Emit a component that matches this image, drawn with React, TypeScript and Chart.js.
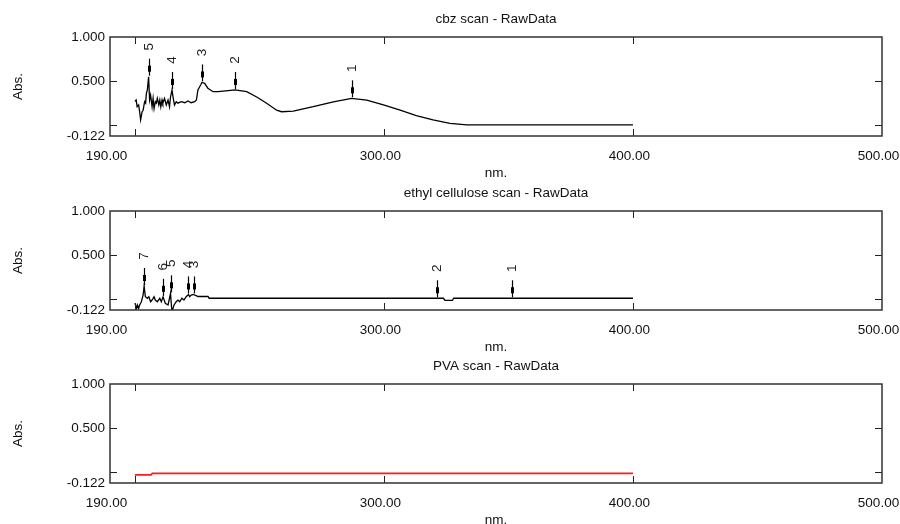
import React, { useEffect, useRef } from "react";
import { Chart, registerables } from "chart.js";

Chart.register(...registerables);

// ---------- axes ----------
const X_MIN = 190;
const X_MAX = 500;
const X_TICK_LABELS = [190, 300, 400, 500];
const X_TICK_MARKS = [200, 300, 400];
const Y_MIN = -0.122;
const Y_MAX = 1.0;
const Y_TICK_LABELS = [-0.122, 0.5, 1.0];
const Y_TICK_MARKS = [0, 0.5];

// ---------- cbz scan ----------
const cbzNm = [
  200.0, 200.5, 200.9, 201.5, 201.9, 202.3, 202.9, 203.3, 203.9, 204.3, 204.6, 205.0, 205.5,
  205.9, 206.3, 206.9, 207.3, 207.7, 208.2, 208.6, 209.0, 209.6, 210.0, 210.4, 210.9, 211.2,
  211.9, 212.6, 213.3, 213.9, 214.3, 214.9, 215.4, 215.9, 216.6, 217.3, 218.6, 220.0, 221.3,
  222.6, 224.0, 224.7, 225.3, 226.4, 226.9, 228.0, 229.3, 231.4, 233.4, 236.5, 240.2, 244.9,
  248.9, 252.9, 256.9, 258.9, 263.6, 271.6, 279.7, 287.0, 293.1, 299.8, 306.5, 313.0, 319.7,
  326.5, 333.3, 350.0, 400.0,
];
const cbzAbs = [
  0.27, 0.286, 0.21, 0.23, 0.153, 0.06, 0.153, 0.17, 0.267, 0.25, 0.36, 0.4, 0.55,
  0.286, 0.34, 0.21, 0.305, 0.19, 0.267, 0.25, 0.305, 0.23, 0.286, 0.21, 0.286, 0.25,
  0.305, 0.23, 0.286, 0.21, 0.32, 0.4, 0.305, 0.23, 0.267, 0.25, 0.267, 0.255, 0.275,
  0.255, 0.267, 0.286, 0.4, 0.456, 0.485, 0.475, 0.42, 0.38, 0.38, 0.39, 0.4, 0.38,
  0.32, 0.25, 0.17, 0.153, 0.16, 0.21, 0.266, 0.305, 0.285, 0.23, 0.17, 0.11, 0.06,
  0.02, 0.005, 0.005, 0.005,
];
const cbzPeakNm = [287.0, 240.2, 226.9, 214.9, 205.5];
const cbzPeakAbs = [0.305, 0.4, 0.485, 0.4, 0.55];
const cbzPeakLabels = ["1", "2", "3", "4", "5"];

// ---------- ethyl cellulose scan ----------
const ecNm = [
  200.0, 200.7, 201.0, 201.5, 201.9, 202.6, 203.3, 203.7, 204.2, 205.0, 205.6, 206.3, 206.9,
  207.7, 208.2, 209.0, 210.0, 210.6, 211.3, 212.2, 213.3, 213.9, 214.3, 214.7, 214.9, 215.7,
  216.6, 217.3, 218.0, 218.9, 219.7, 220.6, 221.5, 222.0, 222.6, 223.6, 223.9, 224.6, 225.3,
  229.4, 229.8, 321.2, 323.9, 324.5, 327.5, 328.0, 351.3, 400.0,
];
const ecAbs = [
  -0.046, -0.103, -0.065, -0.103, -0.065, -0.028, 0.048, 0.15, 0.029, 0.011, 0.029, -0.028, -0.009,
  0.029, -0.009, -0.028, 0.011, -0.028, 0.027, -0.046, -0.065, 0.011, 0.067, -0.085, -0.14, -0.065,
  -0.028, -0.009, -0.028, 0.011, -0.009, 0.029, 0.054, 0.029, 0.048, 0.054, 0.048, 0.04, 0.031,
  0.031, 0.011, 0.011, 0.011, -0.014, -0.014, 0.011, 0.011, 0.011,
];
const ecPeakNm = [351.3, 321.2, 223.6, 221.5, 214.3, 211.3, 203.7];
const ecPeakAbs = [0.011, 0.011, 0.054, 0.054, 0.067, 0.027, 0.15];
const ecPeakLabels = ["1", "2", "3", "4", "5", "6", "7"];

// ---------- PVA scan ----------
const pvaNm = [200.0, 206.5, 207.0, 400.0];
const pvaAbs = [-0.03, -0.03, -0.012, -0.012];

const FONT_FAMILY = "'Liberation Sans', Arial, sans-serif";
const FONT_SIZE = 13.5;

function makeOverlay(peakNm: number[], peakAbs: number[], peakLabels: string[]) {
  return {
    id: "uvOverlay",
    afterDatasetsDraw(chart: any) {
      const { ctx, chartArea: a, scales } = chart;
      const xs = scales.x;
      const ys = scales.y;
      ctx.save();
      // inward tick marks
      ctx.strokeStyle = "#222";
      ctx.lineWidth = 1;
      ctx.beginPath();
      for (const v of X_TICK_MARKS) {
        const px = Math.round(xs.getPixelForValue(v)) + 0.5;
        ctx.moveTo(px, a.top);
        ctx.lineTo(px, a.top + 7);
        ctx.moveTo(px, a.bottom);
        ctx.lineTo(px, a.bottom - 7);
      }
      for (const v of Y_TICK_MARKS) {
        const py = Math.round(ys.getPixelForValue(v)) + 0.5;
        ctx.moveTo(a.left, py);
        ctx.lineTo(a.left + 7, py);
        ctx.moveTo(a.right, py);
        ctx.lineTo(a.right - 7, py);
      }
      ctx.stroke();
      // frame
      ctx.lineWidth = 1.5;
      ctx.strokeStyle = "#333";
      ctx.strokeRect(a.left, a.top, a.right - a.left, a.bottom - a.top);
      // peak picks
      ctx.strokeStyle = "#000";
      ctx.fillStyle = "#000";
      ctx.lineWidth = 1.2;
      ctx.font = `${FONT_SIZE}px ${FONT_FAMILY}`;
      for (let i = 0; i < peakNm.length; i++) {
        const px = Math.round(xs.getPixelForValue(peakNm[i])) + 0.5;
        const py = ys.getPixelForValue(peakAbs[i]);
        ctx.beginPath();
        ctx.moveTo(px, py - 1);
        ctx.lineTo(px, py - 18);
        ctx.stroke();
        ctx.fillRect(px - 1.5, py - 11, 3, 6);
        ctx.save();
        ctx.translate(px, py - 30);
        ctx.rotate(-Math.PI / 2);
        ctx.textAlign = "center";
        ctx.textBaseline = "middle";
        ctx.fillStyle = "#222";
        ctx.fillText(peakLabels[i], 0, 0);
        ctx.restore();
      }
      ctx.restore();
    },
  };
}

type SpecProps = {
  top: number;
  title: string;
  nm: number[];
  abs: number[];
  color: string;
  width: number;
  peakNm: number[];
  peakAbs: number[];
  peakLabels: string[];
};

const CANVAS_W = 900;
const CANVAS_H = 185;

function Spectrum(props: SpecProps) {
  const ref = useRef<HTMLCanvasElement | null>(null);
  useEffect(() => {
    if (!ref.current) return;
    const font = { family: FONT_FAMILY, size: FONT_SIZE, weight: "normal" as const };
    const half = (FONT_SIZE * 1.2) / 2;
    const chart = new Chart(ref.current, {
      type: "line",
      data: {
        datasets: [
          {
            data: props.nm.map((x, i) => ({ x, y: props.abs[i] })),
            borderColor: props.color,
            borderWidth: props.width,
            pointRadius: 0,
            tension: 0,
            fill: false,
          },
        ],
      },
      options: {
        animation: false,
        responsive: false,
        maintainAspectRatio: false,
        layout: { padding: { left: 0, right: 18, top: 0, bottom: 0 } },
        events: [],
        plugins: {
          legend: { display: false },
          tooltip: { enabled: false },
          title: {
            display: true,
            text: props.title,
            fullSize: false,
            color: "#111",
            font,
            padding: { top: 19.5 - half, bottom: 37 - 19.5 - half },
          },
        },
        scales: {
          x: {
            type: "linear",
            min: X_MIN,
            max: X_MAX,
            grid: { display: false, drawTicks: false },
            border: { display: false },
            ticks: {
              autoSkip: false,
              maxRotation: 0,
              padding: 20 - half,
              labelOffset: -3.5,
              color: "#111",
              font,
              callback: (v: any) => Number(v).toFixed(2),
            },
            afterBuildTicks: (s: any) => {
              s.ticks = X_TICK_LABELS.map((v) => ({ value: v }));
            },
            afterFit: (s: any) => {
              s.height = 49;
              s.paddingLeft = 0;
              s.paddingRight = 0;
            },
            title: {
              display: true,
              text: "nm.",
              color: "#111",
              font,
              padding: { top: 0, bottom: 12 - half },
            },
          },
          y: {
            type: "linear",
            min: Y_MIN,
            max: Y_MAX,
            grid: { display: false, drawTicks: false },
            border: { display: false },
            ticks: {
              autoSkip: false,
              padding: 5,
              color: "#111",
              font,
              callback: (v: any) => Number(v).toFixed(3),
            },
            afterBuildTicks: (s: any) => {
              s.ticks = Y_TICK_LABELS.map((v) => ({ value: v }));
            },
            afterFit: (s: any) => {
              s.width = 110;
            },
            title: {
              display: true,
              text: "Abs.",
              color: "#111",
              font,
              padding: { top: 18 - half, bottom: 0 },
            },
          },
        },
      },
      plugins: [makeOverlay(props.peakNm, props.peakAbs, props.peakLabels)],
    } as any);
    return () => chart.destroy();
  }, []);
  return (
    <canvas
      ref={ref}
      width={CANVAS_W}
      height={CANVAS_H}
      style={{ position: "absolute", left: 0, top: props.top, width: CANVAS_W, height: CANVAS_H }}
    />
  );
}

export default function App() {
  return (
    <div
      style={{
        position: "fixed",
        left: 0,
        top: 0,
        width: 900,
        height: 524,
        overflow: "hidden",
        background: "#fff",
      }}
    >
      <Spectrum
        top={0}
        title="cbz scan - RawData"
        nm={cbzNm}
        abs={cbzAbs}
        color="#000"
        width={1.3}
        peakNm={cbzPeakNm}
        peakAbs={cbzPeakAbs}
        peakLabels={cbzPeakLabels}
      />
      <Spectrum
        top={174}
        title="ethyl cellulose scan - RawData"
        nm={ecNm}
        abs={ecAbs}
        color="#000"
        width={1.3}
        peakNm={ecPeakNm}
        peakAbs={ecPeakAbs}
        peakLabels={ecPeakLabels}
      />
      <Spectrum
        top={347}
        title="PVA scan - RawData"
        nm={pvaNm}
        abs={pvaAbs}
        color="#ff1a1a"
        width={1.8}
        peakNm={[]}
        peakAbs={[]}
        peakLabels={[]}
      />
    </div>
  );
}
